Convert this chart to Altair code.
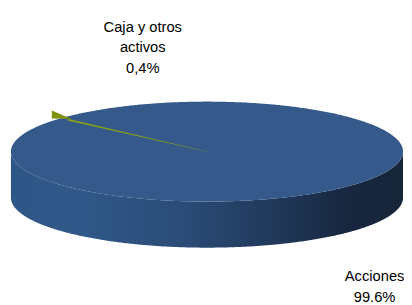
import numpy as np
import pandas as pd
import altair as alt

# ---- data ----
categories = ["Acciones", "Caja y otros activos"]
shares = [99.6, 0.4]
label_texts = ["Acciones\n99.6%", "Caja y otros\nactivos\n0,4%"]

# ---- layout (page pixels, page has an 8px margin) ----
M = 8
W, H = 404, 297
CX, CY = 211 - M, 151.5 - M     # centre of the top face
RX, RY = 200, 51                 # radii of the top face ellipse
DEPTH = 47                       # thickness of the 3-D pie
MID_ANGLE_SMALL = 138.0          # pie rotation: where the small slice points
EXPLODE = 1.065
label_x = [382 - M, 145.5 - M]
label_y = [283.5 - M, 29 - M]

TOP_COLOR = "#34598a"
SLICE_COLOR = "#8da215"

# ---- geometry built from the shares ----
frac = np.array(shares) / np.sum(shares)
ends = np.cumsum(frac) * 360.0
start0 = MID_ANGLE_SMALL - (ends[0] + frac[1] * 180.0)
starts = start0 + np.concatenate([[0], ends[:-1]])
mids = starts + frac * 180.0

t = np.linspace(0, np.pi, 361)
u, s = np.cos(t), np.sin(t)
face = pd.DataFrame({
    "x": CX + RX * u,
    "ytop": CY - RY * s,
    "ybot": CY + RY * s,
    "yside": CY + RY * s + DEPTH,
})

a = np.deg2rad(mids[1])
r = np.array([0.0, 0.95])
wedge = pd.DataFrame({
    "r": r,
    "x": CX + RX * r * np.cos(a),
    "y": CY - RY * r * np.sin(a),
    "w": [0.4, 1.8],
})
# outer (exploded) end of the small slice: a small triangle
rb = np.array([EXPLODE, 0.93])
half = np.array([4.0, 0.0])
tip = pd.DataFrame({
    "x": CX + RX * rb * np.cos(a),
    "y1": CY - RY * rb * np.sin(a) - half - 1.5,
    "y2": CY - RY * rb * np.sin(a) + half - 1.5,
})

labels = pd.DataFrame({"x": label_x, "y": label_y, "text": label_texts, "cat": categories})

xs = alt.Scale(domain=[0, W], nice=False, zero=False)
ys = alt.Scale(domain=[0, H], reverse=True, nice=False, zero=False)

side_grad = alt.LinearGradient(
    gradient="linear",
    stops=[
        alt.GradientStop(color="#2d5686", offset=0.0),
        alt.GradientStop(color="#30598a", offset=0.15),
        alt.GradientStop(color="#2a4b76", offset=0.45),
        alt.GradientStop(color="#1f3656", offset=0.7),
        alt.GradientStop(color="#18273f", offset=0.86),
        alt.GradientStop(color="#172539", offset=1.0),
    ],
    x1=0, x2=1, y1=0, y2=0,
)

side = alt.Chart(face).mark_area(color=side_grad).encode(
    x=alt.X("x:Q", scale=xs, axis=None),
    y=alt.Y("ybot:Q", scale=ys, axis=None),
    y2="yside:Q",
)
top = alt.Chart(face).mark_area(color=TOP_COLOR).encode(
    x=alt.X("x:Q", scale=xs, axis=None),
    y=alt.Y("ytop:Q", scale=ys, axis=None),
    y2="ybot:Q",
)
slice_line = alt.Chart(wedge).mark_trail(color=SLICE_COLOR).encode(
    x=alt.X("x:Q", scale=xs, axis=None),
    y=alt.Y("y:Q", scale=ys, axis=None),
    size=alt.Size("w:Q", scale=None, legend=None),
    order=alt.Order("r:Q"),
)
slice_tip = alt.Chart(tip).mark_area(color="#7f930c").encode(
    x=alt.X("x:Q", scale=xs, axis=None),
    y=alt.Y("y1:Q", scale=ys, axis=None),
    y2="y2:Q",
)
text = alt.Chart(labels).mark_text(
    lineBreak="\n", lineHeight=21, fontSize=15, font="Liberation Sans",
    color="black", align="center", baseline="alphabetic",
).encode(
    x=alt.X("x:Q", scale=xs, axis=None),
    y=alt.Y("y:Q", scale=ys, axis=None),
    text="text:N",
)

chart = alt.layer(side, top, slice_tip, slice_line, text).properties(
    width=W, height=H, padding=0, autosize=alt.AutoSizeParams(type="none"),
    background="white",
).configure_view(stroke=None)

chart.save("out.html", embed_options={"renderer": "svg", "actions": False})
